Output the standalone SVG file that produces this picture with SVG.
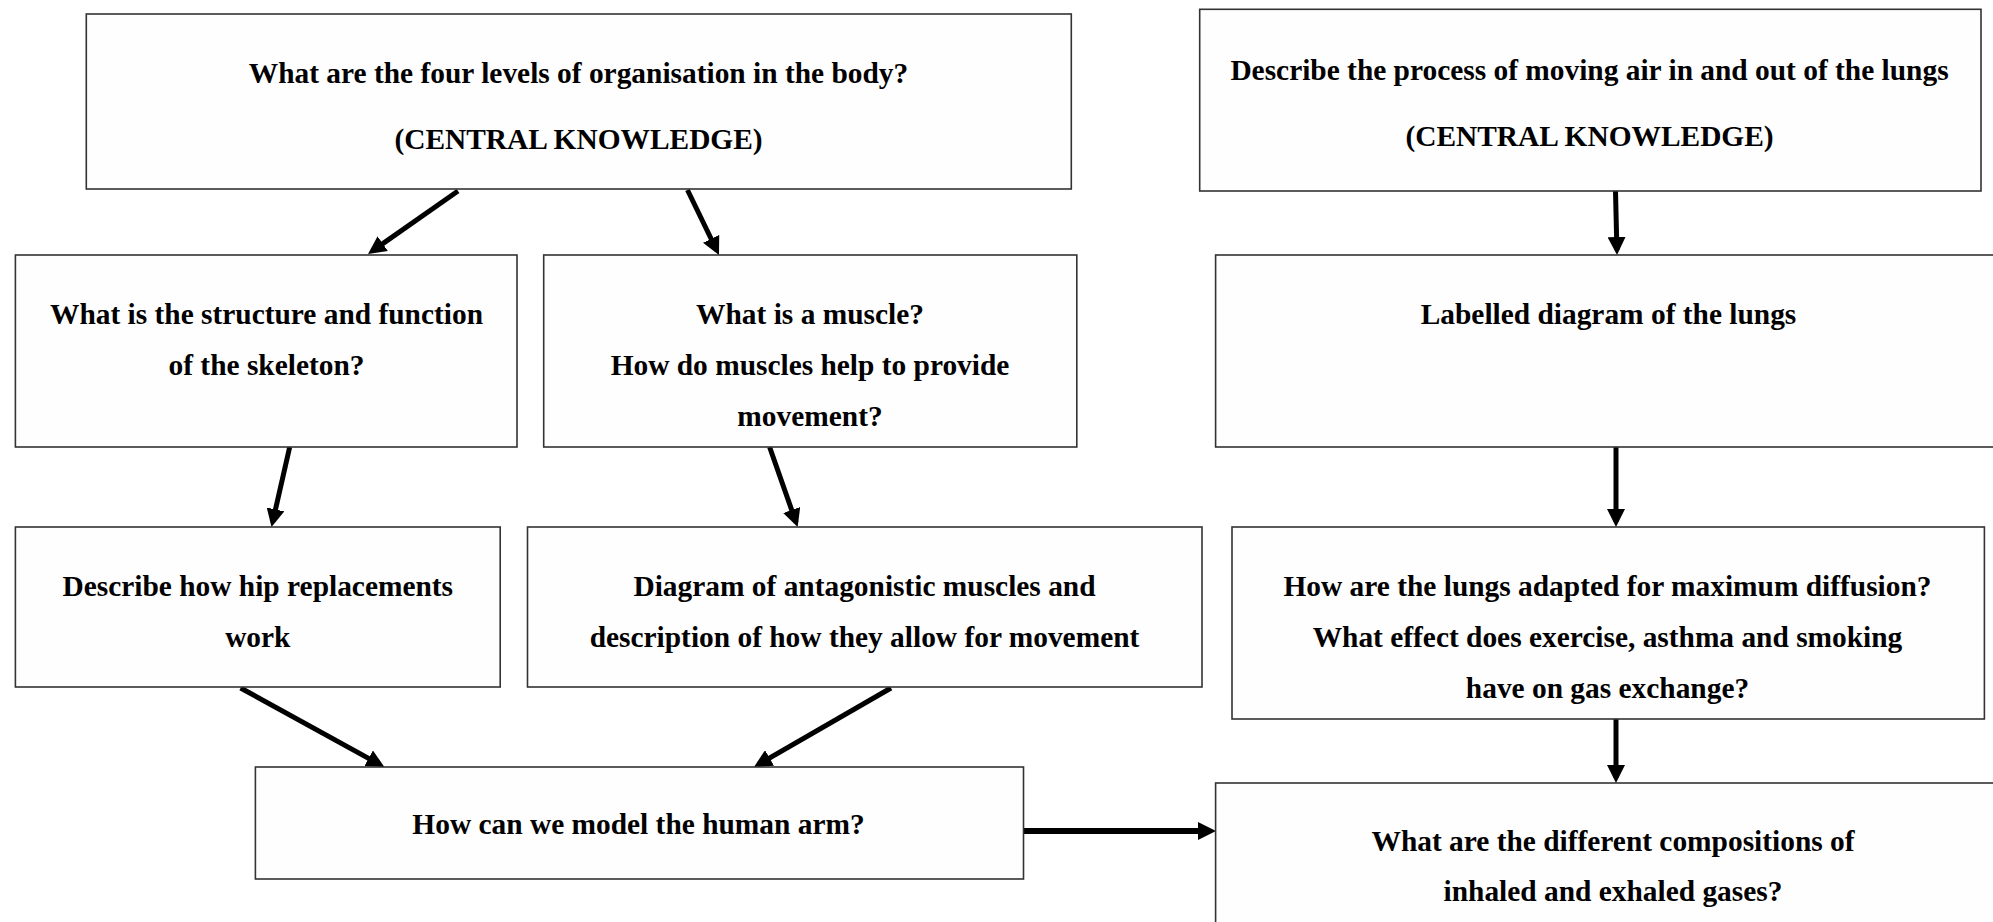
<svg xmlns="http://www.w3.org/2000/svg" width="1993" height="922" viewBox="0 0 1993 922">
<style>
.box{fill:#fefefe;stroke:#333;stroke-width:1.6}
.t{font-family:"Liberation Serif","Times New Roman",serif;font-weight:bold;font-size:29.4px;fill:#000;text-anchor:middle}
.c{stroke:#000;stroke-width:5;fill:none;marker-end:url(#ah)}
.c2{stroke:#000;stroke-width:6;fill:none;marker-end:url(#ah2)}
</style>
<defs>
<marker id="ah" viewBox="0 0 18 18" refX="13" refY="9" markerWidth="18" markerHeight="18" markerUnits="userSpaceOnUse" orient="auto">
<path d="M0,0 L18,9 L0,18 z" fill="#000"/>
</marker>
<marker id="ah2" viewBox="0 0 18 18" refX="12" refY="9" markerWidth="18" markerHeight="18" markerUnits="userSpaceOnUse" orient="auto">
<path d="M0,0 L18,9 L0,18 z" fill="#000"/>
</marker>
</defs>
<rect width="1993" height="922" fill="#fff"/>
<g id="connectors">
<line class="c" x1="458" y1="191" x2="372.1" y2="251.1"/>
<line class="c" x1="687.5" y1="190" x2="716.8" y2="250.5"/>
<line class="c" x1="289.7" y1="447" x2="272.6" y2="522.1"/>
<line class="c" x1="769.6" y1="447" x2="796" y2="522.3"/>
<line class="c" x1="240.6" y1="688" x2="380" y2="764.6"/>
<line class="c" x1="891" y1="688" x2="758.3" y2="764.5"/>
<line class="c2" x1="1023.5" y1="831" x2="1210" y2="831"/>
<line class="c" x1="1615.5" y1="191" x2="1616.9" y2="250"/>
<line class="c" x1="1616" y1="447" x2="1616" y2="522"/>
<line class="c" x1="1616" y1="719" x2="1616" y2="778"/>
</g>
<g id="nodeA">
<rect class="box" x="86.3" y="14" width="985" height="175"/>
<text class="t" x="578.5" y="83">What are the four levels of organisation in the body?</text>
<text class="t" x="578.5" y="149">(CENTRAL KNOWLEDGE)</text>
</g>
<g id="nodeB">
<rect class="box" x="15.4" y="255" width="501.6" height="192"/>
<text class="t" x="266.5" y="324">What is the structure and function</text>
<text class="t" x="266.5" y="375">of the skeleton?</text>
</g>
<g id="nodeC">
<rect class="box" x="543.7" y="255" width="533.1" height="192"/>
<text class="t" x="810" y="324">What is a muscle?</text>
<text class="t" x="810" y="375">How do muscles help to provide</text>
<text class="t" x="810" y="426">movement?</text>
</g>
<g id="nodeD">
<rect class="box" x="15.4" y="527" width="484.8" height="160"/>
<text class="t" x="257.8" y="596">Describe how hip replacements</text>
<text class="t" x="257.8" y="647">work</text>
</g>
<g id="nodeE">
<rect class="box" x="527.5" y="527" width="674.5" height="160"/>
<text class="t" x="864.5" y="596">Diagram of antagonistic muscles and</text>
<text class="t" x="864.5" y="647">description of how they allow for movement</text>
</g>
<g id="nodeF">
<rect class="box" x="255.4" y="767" width="768.1" height="112"/>
<text class="t" x="638.5" y="834">How can we model the human arm?</text>
</g>
<g id="nodeH">
<rect class="box" x="1199.7" y="9.3" width="781.3" height="181.7"/>
<text class="t" x="1589.5" y="80">Describe the process of moving air in and out of the lungs</text>
<text class="t" x="1589.5" y="146">(CENTRAL KNOWLEDGE)</text>
</g>
<g id="nodeI">
<rect class="box" x="1215.6" y="255" width="786" height="192"/>
<text class="t" x="1608.5" y="324">Labelled diagram of the lungs</text>
</g>
<g id="nodeJ">
<rect class="box" x="1232" y="527" width="752.4" height="192"/>
<text class="t" x="1607.5" y="596">How are the lungs adapted for maximum diffusion?</text>
<text class="t" x="1607.5" y="647">What effect does exercise, asthma and smoking</text>
<text class="t" x="1607.5" y="698">have on gas exchange?</text>
</g>
<g id="nodeK">
<rect class="box" x="1215.6" y="783" width="795" height="160"/>
<text class="t" x="1613" y="851">What are the different compositions of</text>
<text class="t" x="1613" y="901">inhaled and exhaled gases?</text>
</g>
</svg>
